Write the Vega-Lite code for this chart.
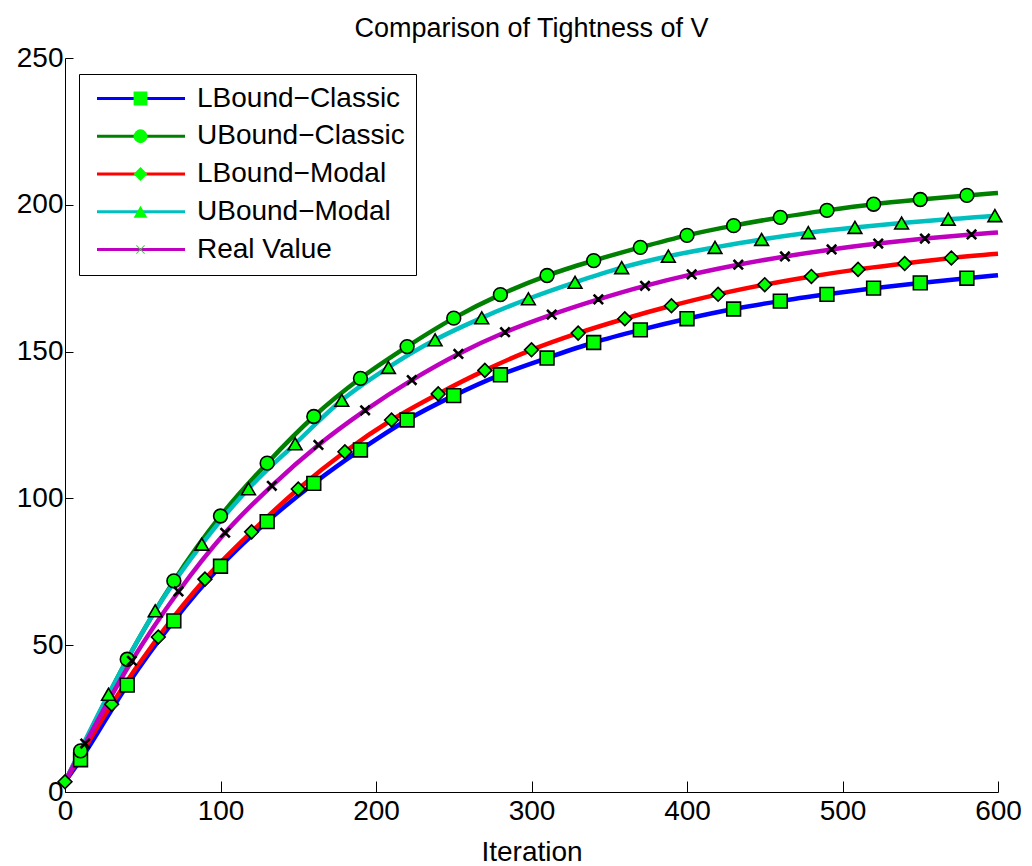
{
  "$schema": "https://vega.github.io/schema/vega-lite/v6.json",
  "autosize": {"type": "none"},
  "width": 933,
  "height": 734,
  "padding": {"left": 65, "top": 58, "right": 34, "bottom": 74},
  "background": "white",
  "title": {
    "text": "Comparison of Tightness of V",
    "font": "Liberation Sans",
    "fontSize": 27,
    "fontWeight": "normal",
    "color": "black",
    "anchor": "middle",
    "frame": "group",
    "offset": 1
  },
  "config": {
    "view": {"stroke": null},
    "axis": {
      "grid": false,
      "domainColor": "black",
      "domainWidth": 1,
      "tickColor": "black",
      "tickWidth": 1,
      "labelColor": "black",
      "labelFont": "Liberation Sans",
      "labelFontSize": 28,
      "labelFlush": false,
      "labelOverlap": false,
      "titleFont": "Liberation Sans",
      "titleFontSize": 28,
      "titleFontWeight": "normal",
      "titleColor": "black"
    }
  },
  "data": {
    "values": [
      {"series": "LBound−Classic", "iteration": 0, "value": 3.5, "marker": false},
      {"series": "LBound−Classic", "iteration": 10, "value": 11.0, "marker": true},
      {"series": "LBound−Classic", "iteration": 40, "value": 36.4, "marker": true},
      {"series": "LBound−Classic", "iteration": 70, "value": 58.3, "marker": true},
      {"series": "LBound−Classic", "iteration": 100, "value": 76.9, "marker": true},
      {"series": "LBound−Classic", "iteration": 130, "value": 92.1, "marker": true},
      {"series": "LBound−Classic", "iteration": 160, "value": 105.1, "marker": true},
      {"series": "LBound−Classic", "iteration": 190, "value": 116.5, "marker": true},
      {"series": "LBound−Classic", "iteration": 220, "value": 126.7, "marker": true},
      {"series": "LBound−Classic", "iteration": 250, "value": 135.0, "marker": true},
      {"series": "LBound−Classic", "iteration": 280, "value": 142.1, "marker": true},
      {"series": "LBound−Classic", "iteration": 310, "value": 147.8, "marker": true},
      {"series": "LBound−Classic", "iteration": 340, "value": 153.1, "marker": true},
      {"series": "LBound−Classic", "iteration": 370, "value": 157.4, "marker": true},
      {"series": "LBound−Classic", "iteration": 400, "value": 161.2, "marker": true},
      {"series": "LBound−Classic", "iteration": 430, "value": 164.5, "marker": true},
      {"series": "LBound−Classic", "iteration": 460, "value": 167.2, "marker": true},
      {"series": "LBound−Classic", "iteration": 490, "value": 169.5, "marker": true},
      {"series": "LBound−Classic", "iteration": 520, "value": 171.6, "marker": true},
      {"series": "LBound−Classic", "iteration": 550, "value": 173.4, "marker": true},
      {"series": "LBound−Classic", "iteration": 580, "value": 175.0, "marker": true},
      {"series": "LBound−Classic", "iteration": 600, "value": 176.0, "marker": false},

      {"series": "UBound−Classic", "iteration": 0, "value": 3.5, "marker": false},
      {"series": "UBound−Classic", "iteration": 10, "value": 14.0, "marker": true},
      {"series": "UBound−Classic", "iteration": 40, "value": 45.2, "marker": true},
      {"series": "UBound−Classic", "iteration": 70, "value": 71.9, "marker": true},
      {"series": "UBound−Classic", "iteration": 100, "value": 94.0, "marker": true},
      {"series": "UBound−Classic", "iteration": 130, "value": 112.0, "marker": true},
      {"series": "UBound−Classic", "iteration": 160, "value": 127.9, "marker": true},
      {"series": "UBound−Classic", "iteration": 190, "value": 140.9, "marker": true},
      {"series": "UBound−Classic", "iteration": 220, "value": 151.7, "marker": true},
      {"series": "UBound−Classic", "iteration": 250, "value": 161.4, "marker": true},
      {"series": "UBound−Classic", "iteration": 280, "value": 169.4, "marker": true},
      {"series": "UBound−Classic", "iteration": 310, "value": 175.9, "marker": true},
      {"series": "UBound−Classic", "iteration": 340, "value": 181.0, "marker": true},
      {"series": "UBound−Classic", "iteration": 370, "value": 185.5, "marker": true},
      {"series": "UBound−Classic", "iteration": 400, "value": 189.6, "marker": true},
      {"series": "UBound−Classic", "iteration": 430, "value": 192.9, "marker": true},
      {"series": "UBound−Classic", "iteration": 460, "value": 195.7, "marker": true},
      {"series": "UBound−Classic", "iteration": 490, "value": 198.1, "marker": true},
      {"series": "UBound−Classic", "iteration": 520, "value": 200.2, "marker": true},
      {"series": "UBound−Classic", "iteration": 550, "value": 201.8, "marker": true},
      {"series": "UBound−Classic", "iteration": 580, "value": 203.2, "marker": true},
      {"series": "UBound−Classic", "iteration": 600, "value": 204.0, "marker": false},

      {"series": "LBound−Modal", "iteration": 0, "value": 3.5, "marker": true},
      {"series": "LBound−Modal", "iteration": 30, "value": 29.9, "marker": true},
      {"series": "LBound−Modal", "iteration": 60, "value": 52.8, "marker": true},
      {"series": "LBound−Modal", "iteration": 90, "value": 72.5, "marker": true},
      {"series": "LBound−Modal", "iteration": 120, "value": 88.6, "marker": true},
      {"series": "LBound−Modal", "iteration": 150, "value": 103.2, "marker": true},
      {"series": "LBound−Modal", "iteration": 180, "value": 115.9, "marker": true},
      {"series": "LBound−Modal", "iteration": 210, "value": 126.7, "marker": true},
      {"series": "LBound−Modal", "iteration": 240, "value": 135.6, "marker": true},
      {"series": "LBound−Modal", "iteration": 270, "value": 143.6, "marker": true},
      {"series": "LBound−Modal", "iteration": 300, "value": 150.6, "marker": true},
      {"series": "LBound−Modal", "iteration": 330, "value": 156.3, "marker": true},
      {"series": "LBound−Modal", "iteration": 360, "value": 161.2, "marker": true},
      {"series": "LBound−Modal", "iteration": 390, "value": 165.6, "marker": true},
      {"series": "LBound−Modal", "iteration": 420, "value": 169.5, "marker": true},
      {"series": "LBound−Modal", "iteration": 450, "value": 172.8, "marker": true},
      {"series": "LBound−Modal", "iteration": 480, "value": 175.6, "marker": true},
      {"series": "LBound−Modal", "iteration": 510, "value": 178.0, "marker": true},
      {"series": "LBound−Modal", "iteration": 540, "value": 180.0, "marker": true},
      {"series": "LBound−Modal", "iteration": 570, "value": 181.9, "marker": true},
      {"series": "LBound−Modal", "iteration": 600, "value": 183.3, "marker": false},

      {"series": "UBound−Modal", "iteration": 0, "value": 3.5, "marker": false},
      {"series": "UBound−Modal", "iteration": 28, "value": 33.3, "marker": true},
      {"series": "UBound−Modal", "iteration": 58, "value": 61.7, "marker": true},
      {"series": "UBound−Modal", "iteration": 88, "value": 84.4, "marker": true},
      {"series": "UBound−Modal", "iteration": 118, "value": 103.3, "marker": true},
      {"series": "UBound−Modal", "iteration": 148, "value": 118.6, "marker": true},
      {"series": "UBound−Modal", "iteration": 178, "value": 133.4, "marker": true},
      {"series": "UBound−Modal", "iteration": 208, "value": 144.6, "marker": true},
      {"series": "UBound−Modal", "iteration": 238, "value": 154.0, "marker": true},
      {"series": "UBound−Modal", "iteration": 268, "value": 161.5, "marker": true},
      {"series": "UBound−Modal", "iteration": 298, "value": 168.0, "marker": true},
      {"series": "UBound−Modal", "iteration": 328, "value": 173.6, "marker": true},
      {"series": "UBound−Modal", "iteration": 358, "value": 178.6, "marker": true},
      {"series": "UBound−Modal", "iteration": 388, "value": 182.5, "marker": true},
      {"series": "UBound−Modal", "iteration": 418, "value": 185.5, "marker": true},
      {"series": "UBound−Modal", "iteration": 448, "value": 188.2, "marker": true},
      {"series": "UBound−Modal", "iteration": 478, "value": 190.5, "marker": true},
      {"series": "UBound−Modal", "iteration": 508, "value": 192.3, "marker": true},
      {"series": "UBound−Modal", "iteration": 538, "value": 193.8, "marker": true},
      {"series": "UBound−Modal", "iteration": 568, "value": 195.1, "marker": true},
      {"series": "UBound−Modal", "iteration": 598, "value": 196.3, "marker": true},
      {"series": "UBound−Modal", "iteration": 600, "value": 196.4, "marker": false},

      {"series": "Real Value", "iteration": 0, "value": 3.5, "marker": false},
      {"series": "Real Value", "iteration": 13, "value": 16.5, "marker": true},
      {"series": "Real Value", "iteration": 43, "value": 44.7, "marker": true},
      {"series": "Real Value", "iteration": 73, "value": 68.3, "marker": true},
      {"series": "Real Value", "iteration": 103, "value": 88.3, "marker": true},
      {"series": "Real Value", "iteration": 133, "value": 104.3, "marker": true},
      {"series": "Real Value", "iteration": 163, "value": 118.2, "marker": true},
      {"series": "Real Value", "iteration": 193, "value": 130.0, "marker": true},
      {"series": "Real Value", "iteration": 223, "value": 140.3, "marker": true},
      {"series": "Real Value", "iteration": 253, "value": 149.2, "marker": true},
      {"series": "Real Value", "iteration": 283, "value": 156.6, "marker": true},
      {"series": "Real Value", "iteration": 313, "value": 162.6, "marker": true},
      {"series": "Real Value", "iteration": 343, "value": 167.8, "marker": true},
      {"series": "Real Value", "iteration": 373, "value": 172.4, "marker": true},
      {"series": "Real Value", "iteration": 403, "value": 176.3, "marker": true},
      {"series": "Real Value", "iteration": 433, "value": 179.6, "marker": true},
      {"series": "Real Value", "iteration": 463, "value": 182.4, "marker": true},
      {"series": "Real Value", "iteration": 493, "value": 184.8, "marker": true},
      {"series": "Real Value", "iteration": 523, "value": 186.8, "marker": true},
      {"series": "Real Value", "iteration": 553, "value": 188.5, "marker": true},
      {"series": "Real Value", "iteration": 583, "value": 189.9, "marker": true},
      {"series": "Real Value", "iteration": 600, "value": 190.6, "marker": false}
    ]
  },
  "encoding": {
    "x": {
      "field": "iteration",
      "type": "quantitative",
      "scale": {"domain": [0, 600], "nice": false, "zero": false},
      "axis": {
        "title": "Iteration",
        "values": [0, 100, 200, 300, 400, 500, 600],
        "tickSize": -11,
        "labelPadding": 16,
        "titlePadding": 13
      }
    },
    "y": {
      "field": "value",
      "type": "quantitative",
      "scale": {"domain": [0, 250], "nice": false, "zero": false},
      "axis": {
        "title": null,
        "values": [0, 50, 100, 150, 200, 250],
        "tickSize": -8,
        "labelPadding": 10
      }
    }
  },
  "layer": [
    {
      "mark": {"type": "line", "strokeWidth": 4.5, "interpolate": "monotone"},
      "encoding": {
        "color": {
          "field": "series",
          "type": "nominal",
          "sort": null,
          "scale": {"range": ["#0000ff", "#008000", "#ff0000", "#00bfbf", "#bf00bf"]},
          "legend": {
            "title": null,
            "orient": "none",
            "legendX": 14,
            "legendY": 16,
            "symbolType": "stroke",
            "symbolSize": 7744,
            "symbolStrokeWidth": 3,
            "labelFont": "Liberation Sans",
            "labelFontSize": 28,
            "labelColor": "black",
            "labelLimit": 500,
            "labelOffset": 10.5,
            "padding": 11,
            "symbolOffset": 5.5,
            "clipHeight": 27,
            "rowPadding": 8.75,
            "strokeColor": "black",
            "fillColor": "white",
            "zindex": 1
          }
        }
      }
    },
    {
      "transform": [{"filter": "datum.marker"}],
      "mark": {"type": "point", "filled": true, "fill": "#00ff00", "stroke": "black", "strokeWidth": 1.6, "size": 190, "opacity": 1},
      "encoding": {
        "shape": {
          "field": "series",
          "type": "nominal",
          "sort": null,
          "scale": {"range": ["square", "circle", "diamond", "triangle-up", "M-0.65,-0.55L-0.55,-0.65L0,-0.1L0.55,-0.65L0.65,-0.55L0.1,0L0.65,0.55L0.55,0.65L0,0.1L-0.55,0.65L-0.65,0.55L-0.1,0Z"]},
          "legend": {
            "title": null,
            "orient": "none",
            "legendX": 14,
            "legendY": 16,
            "symbolSize": 190,
            "symbolStrokeWidth": 1.6,
            "symbolFillColor": "#00ff00",
            "symbolStrokeColor": "black",
            "symbolOpacity": 1,
            "labelFont": "Liberation Sans",
            "labelFontSize": 28,
            "labelExpr": "''",
            "labelOffset": 10.5,
            "padding": 11,
            "symbolOffset": 36.5,
            "clipHeight": 27,
            "rowPadding": 8.75,
            "zindex": 2
          }
        }
      }
    }
  ]
}
